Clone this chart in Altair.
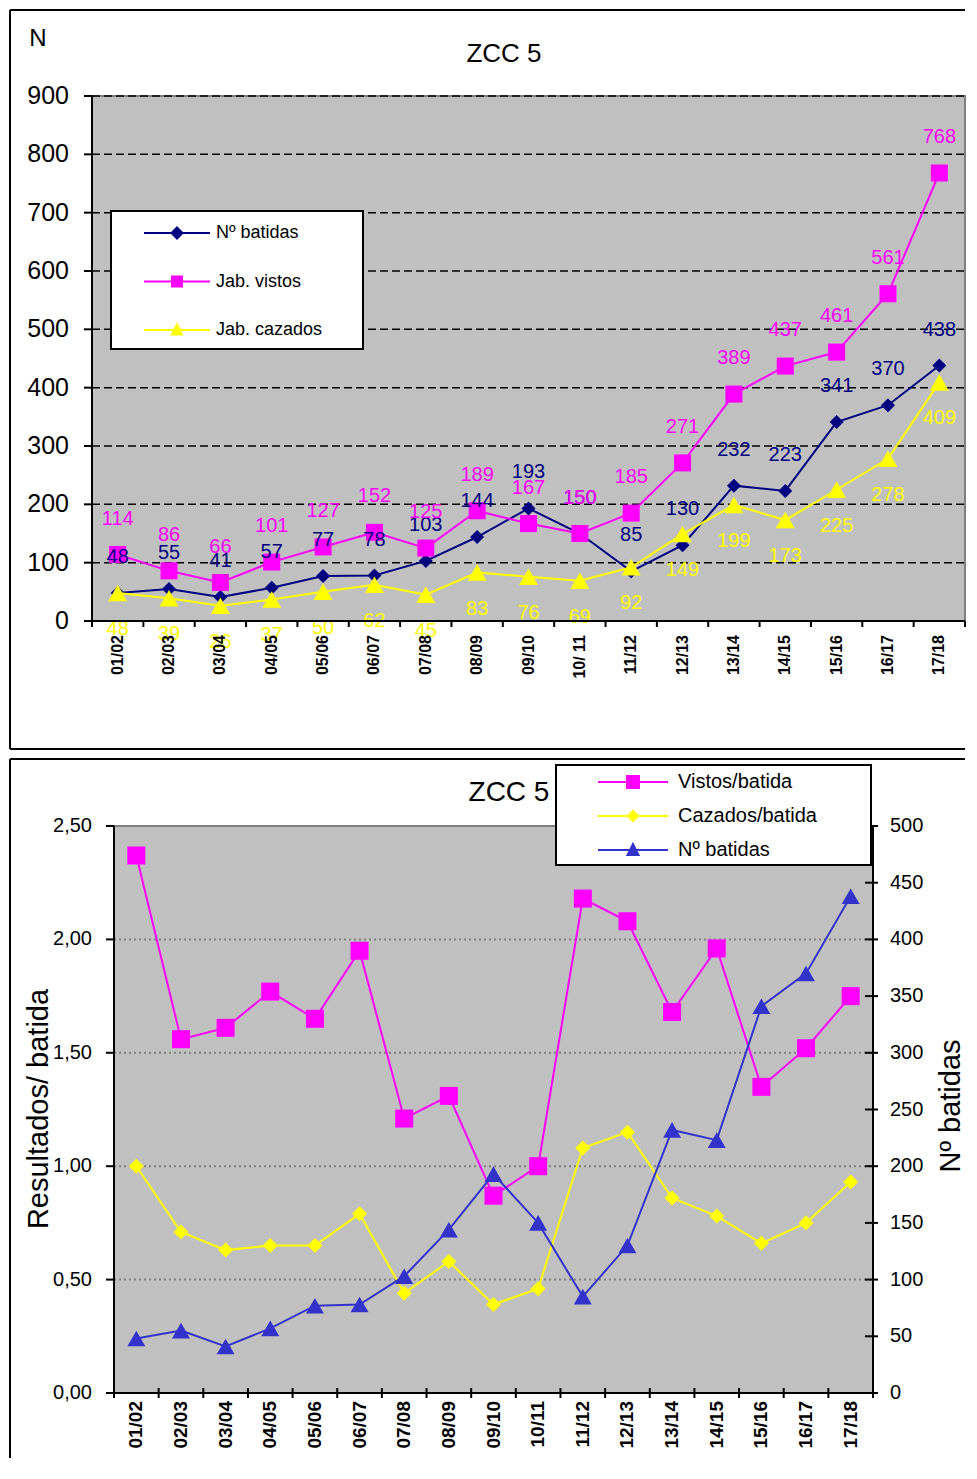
import altair as alt
import pandas as pd

# ---------------- data ----------------
seasons_top = ["01/02", "02/03", "03/04", "04/05", "05/06", "06/07", "07/08", "08/09", "09/10",
               "10/ 11", "11/12", "12/13", "13/14", "14/15", "15/16", "16/17", "17/18"]
seasons_bottom = ["01/02", "02/03", "03/04", "04/05", "05/06", "06/07", "07/08", "08/09", "09/10",
                  "10/11", "11/12", "12/13", "13/14", "14/15", "15/16", "16/17", "17/18"]
n_batidas = [48, 55, 41, 57, 77, 78, 103, 144, 193, 150, 85, 130, 232, 223, 341, 370, 438]
jab_vistos = [114, 86, 66, 101, 127, 152, 125, 189, 167, 150, 185, 271, 389, 437, 461, 561, 768]
jab_cazados = [48, 39, 26, 37, 50, 62, 45, 83, 76, 69, 92, 149, 199, 173, 225, 278, 409]
vistos_batida = [2.37, 1.56, 1.61, 1.77, 1.65, 1.95, 1.21, 1.31, 0.87, 1.00, 2.18, 2.08, 1.68,
                 1.96, 1.35, 1.52, 1.75]
cazados_batida = [1.00, 0.71, 0.63, 0.65, 0.65, 0.79, 0.44, 0.58, 0.39, 0.46, 1.08, 1.15, 0.86,
                  0.78, 0.66, 0.75, 0.93]

top_ticks = [0, 100, 200, 300, 400, 500, 600, 700, 800, 900]
top_tick_labels = ["0", "100", "200", "300", "400", "500", "600", "700", "800", "900"]
left_ticks = [0, 0.5, 1.0, 1.5, 2.0, 2.5]
left_tick_labels = ["0,00", "0,50", "1,00", "1,50", "2,00", "2,50"]
right_ticks = [0, 50, 100, 150, 200, 250, 300, 350, 400, 450, 500]
right_tick_labels = ["0", "50", "100", "150", "200", "250", "300", "350", "400", "450", "500"]

top_names = ["Nº batidas", "Jab. vistos", "Jab. cazados"]
top_colors = ["#000080", "#FF00FF", "#FFFF00"]
bottom_names = ["Vistos/batida", "Cazados/batida", "Nº batidas"]
bottom_colors = ["#FF00FF", "#FFFF00", "#3333CC"]
chart_title = "ZCC 5"
top_ytitle = "N"
left_title = "Resultados/ batida"
right_title = "Nº batidas"

FONT = "Liberation Sans"

top_df = pd.DataFrame({"season": seasons_top, "batidas": n_batidas,
                       "vistos": jab_vistos, "cazados": jab_cazados})
bot_df = pd.DataFrame({"season": seasons_bottom, "vpb": vistos_batida,
                       "cpb": cazados_batida, "batidas": n_batidas})
top_tick_df = pd.DataFrame({"v": top_ticks, "lab": top_tick_labels})
left_tick_df = pd.DataFrame({"v": left_ticks, "lab": left_tick_labels})
right_tick_df = pd.DataFrame({"v": right_ticks, "lab": right_tick_labels})
one = pd.DataFrame({"k": [0]})

# ---------------- helpers ----------------
def hline(x1, x2, y, color="black", width=2):
    return alt.Chart(one).mark_rule(color=color, strokeWidth=width).encode(
        x=alt.value(x1), x2=alt.value(x2), y=alt.value(y))

def vline(x, y1, y2, color="black", width=2):
    return alt.Chart(one).mark_rule(color=color, strokeWidth=width).encode(
        x=alt.value(x), y=alt.value(y1), y2=alt.value(y2))

def box(x1, x2, y1, y2, fill="white", stroke="black"):
    return alt.Chart(one).mark_rect(fill=fill, stroke=stroke, strokeWidth=2).encode(
        x=alt.value(x1), x2=alt.value(x2), y=alt.value(y1), y2=alt.value(y2))

def label(text, x, y, size, angle=0):
    return alt.Chart(one).mark_text(font=FONT, fontSize=size, color="black", angle=angle,
                                    align="center", baseline="middle").encode(
        x=alt.value(x), y=alt.value(y), text=alt.value(text))

def legend_layer(names, colors, paths, leg):
    d = pd.DataFrame({"serie": names})
    return alt.Chart(d).transform_filter("false").mark_point(
        filled=True, opacity=1, strokeWidth=2).encode(
        fill=alt.Fill("serie:N", scale=alt.Scale(domain=names, range=colors), legend=leg),
        stroke=alt.Stroke("serie:N", scale=alt.Scale(domain=names, range=colors), legend=leg),
        shape=alt.Shape("serie:N", scale=alt.Scale(domain=names, range=paths), legend=leg),
    )

def y_ticks(df, scale, x1, x2):
    return alt.Chart(df).mark_rule(color="black", strokeWidth=2).encode(
        y=alt.Y("v:Q", scale=scale, axis=None), x=alt.value(x1), x2=alt.value(x2))

def y_labels(df, scale, x, align, size):
    return alt.Chart(df).mark_text(font=FONT, fontSize=size, color="black", align=align,
                                   baseline="middle").encode(
        y=alt.Y("v:Q", scale=scale, axis=None), x=alt.value(x), text="lab:N")

def y_grid(df, scale, x1, x2, color, dash, width):
    return alt.Chart(df).mark_rule(color=color, strokeWidth=width, strokeDash=dash).encode(
        y=alt.Y("v:Q", scale=scale, axis=None), x=alt.value(x1), x2=alt.value(x2))

def x_ticks(df, scale, y1, y2):
    return alt.Chart(df).mark_rule(color="black", strokeWidth=2).encode(
        x=alt.X("season:N", scale=scale, axis=None, bandPosition=0),
        y=alt.value(y1), y2=alt.value(y2))

def x_labels(df, scale, y, size):
    return alt.Chart(df).mark_text(font=FONT, fontSize=size, fontWeight="bold", color="black",
                                   angle=270, align="right", baseline="middle").encode(
        x=alt.X("season:N", scale=scale, axis=None), y=alt.value(y), text="season:N")

# ---------------- top chart (plot origin at page x=91, y=95) ----------------
W1, H1 = 873, 525
xs1 = alt.Scale(type="band", domain=seasons_top, paddingInner=0, paddingOuter=0)
ys1 = alt.Scale(domain=[0, 900], nice=False)

base1 = alt.Chart(top_df)
top_specs = [("batidas", top_colors[0], "diamond", 196, -36),
             ("vistos", top_colors[1], "square", 289, -36),
             ("cazados", top_colors[2], "triangle-up", 361, 36)]
top_marks, top_texts = [], []
for field, color, shape, size, dy in top_specs:
    xn = alt.X("season:N", scale=xs1, axis=None)
    yn = alt.Y(f"{field}:Q", scale=ys1, axis=None)
    top_marks.append(base1.mark_line(color=color, strokeWidth=2).encode(x=xn, y=yn))
    top_marks.append(base1.mark_point(shape=shape, filled=True, size=size, color=color,
                                      opacity=1).encode(x=xn, y=yn))
    top_texts.append(base1.mark_text(color=color, font=FONT, fontSize=20, dy=dy,
                                     baseline="middle").encode(x=xn, y=yn, text=f"{field}:Q"))

top_paths = ["M-6.6,0H6.6M0,-1.1L1.1,0L0,1.1L-1.1,0Z",
             "M-6.6,0H6.6M-1.0,-1.0H1.0V1.0H-1.0Z",
             "M-6.6,0H6.6M0,-1.1L1.0,0.9H-1.0Z"]
top_leg = alt.Legend(title=None, orient="none", legendX=43, legendY=128, direction="vertical",
                     symbolSize=100, symbolStrokeWidth=2, symbolOffset=33, labelOffset=30,
                     labelFont=FONT, labelFontSize=18, labelColor="black", rowPadding=29.5,
                     padding=0)

FT = -86   # top edge of the outer frame
FR = 873   # right end of the outer frame lines
top_chart = alt.layer(
    y_grid(top_tick_df, ys1, 0, W1, "black", [8, 4], 1.5),
    *top_marks, *top_texts,
    # axes
    vline(0, 0, H1), hline(0, W1, H1),
    y_ticks(top_tick_df, ys1, -8, 0),
    y_labels(top_tick_df, ys1, -23, "right", 25),
    x_ticks(top_df, xs1, H1, H1 + 6), vline(W1, H1, H1 + 6),
    x_labels(top_df, xs1, H1 + 14, 16),
    label(top_ytitle, -54, -57, 24),
    # decorations
    box(19, 271, 115, 253),
    label(chart_title, 412, -42, 26),
    hline(-82, FR, FT), vline(-82, FT, 653), hline(-82, FR, 653),
    legend_layer(top_names, top_colors, top_paths, top_leg),
).properties(width=W1, height=H1,
             view=alt.ViewBackground(fill="#C0C0C0", stroke="#808080", strokeWidth=2))

# ---------------- bottom chart (group origin at page x=91, plot from 113) ----------------
OFF = 22
W2, H2 = 781, 567
xs2 = alt.Scale(type="band", domain=seasons_bottom, range=[OFF, W2], paddingInner=0,
                paddingOuter=0)
yl = alt.Scale(domain=[0, 2.5], nice=False)
yr = alt.Scale(domain=[0, 500], nice=False)

base2 = alt.Chart(bot_df)
xbn = alt.X("season:N", scale=xs2, axis=None)
left = alt.layer(
    y_grid(left_tick_df[left_tick_df.v > 0], yl, OFF, W2, "#808080", [2, 3], 2),
    base2.mark_line(color=bottom_colors[0], strokeWidth=2).encode(
        x=xbn, y=alt.Y("vpb:Q", scale=yl, axis=None)),
    base2.mark_point(shape="square", filled=True, size=324, color=bottom_colors[0],
                     opacity=1).encode(x=xbn, y=alt.Y("vpb:Q", scale=yl, axis=None)),
    base2.mark_line(color=bottom_colors[1], strokeWidth=2).encode(
        x=xbn, y=alt.Y("cpb:Q", scale=yl, axis=None)),
    base2.mark_point(shape="diamond", filled=True, size=225, color=bottom_colors[1],
                     opacity=1).encode(x=xbn, y=alt.Y("cpb:Q", scale=yl, axis=None)),
    y_ticks(left_tick_df, yl, OFF - 8, OFF),
    y_labels(left_tick_df, yl, OFF - 22, "right", 20),
)
right = alt.layer(
    base2.mark_line(color=bottom_colors[2], strokeWidth=2).encode(
        x=xbn, y=alt.Y("batidas:Q", scale=yr, axis=None)),
    base2.mark_point(shape="triangle-up", filled=True, size=324, color=bottom_colors[2],
                     opacity=1).encode(x=xbn, y=alt.Y("batidas:Q", scale=yr, axis=None)),
    y_ticks(right_tick_df, yr, W2 - 8, W2 + 5),
    y_labels(right_tick_df, yr, W2 + 17, "left", 20),
)

bot_paths = ["M-7,0H7M-1.2,-1.2H1.2V1.2H-1.2Z",
             "M-7,0H7M0,-1.0L1.0,0L0,1.0L-1.0,0Z",
             "M-7,0H7M0,-1.2L1.1,1.0H-1.1Z"]
bot_leg = alt.Legend(title=None, orient="none", legendX=496, legendY=-54, direction="vertical",
                     symbolSize=100, symbolStrokeWidth=2, symbolOffset=35, labelOffset=35,
                     labelFont=FONT, labelFontSize=20, labelColor="black", rowPadding=14,
                     padding=0)

bottom_chart = alt.layer(
    box(OFF, W2, 0, H2, fill="#C0C0C0", stroke="#808080"),
    left, right,
    # axes
    vline(OFF, 0, H2), vline(W2, 0, H2), hline(OFF, W2, H2),
    x_ticks(bot_df, xs2, H2 - 5, H2 + 5), vline(W2, H2 - 5, H2 + 5),
    x_labels(bot_df, xs2, H2 + 8, 19),
    label(left_title, -53, 283, 29, angle=270),
    label(right_title, 859, 280, 29, angle=270),
    # decorations
    box(464, 779, -61, 39),
    label(chart_title, 417, -33, 28),
    hline(-82, FR, -67), vline(-82, -67, 632),
    legend_layer(bottom_names, bottom_colors, bot_paths, bot_leg),
).resolve_scale(y="independent").properties(
    width=W2, height=H2,
    view=alt.ViewBackground(fill="transparent", stroke="transparent"))

chart = alt.vconcat(top_chart, bottom_chart, spacing=6).resolve_scale(
    fill="independent", stroke="independent", shape="independent"
).resolve_legend(
    fill="independent", stroke="independent", shape="independent"
).properties(padding=0, background="white")

chart.save("out.html", embed_options={"renderer": "svg", "actions": False})
